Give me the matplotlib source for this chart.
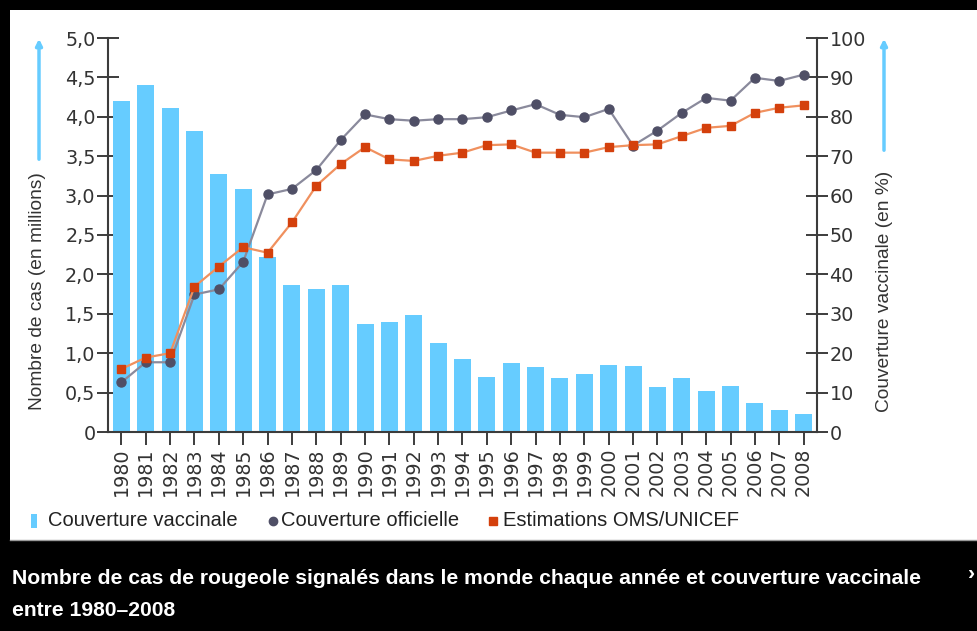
import numpy as np
import matplotlib
matplotlib.use("Agg")
import matplotlib.pyplot as plt
from matplotlib.patches import Rectangle, FancyArrowPatch
from matplotlib.lines import Line2D

years = list(range(1980, 2009))

# reported measles cases, millions
cases = [4.20, 4.40, 4.11, 3.82, 3.28, 3.09, 2.22, 1.86, 1.82, 1.87,
         1.37, 1.40, 1.48, 1.13, 0.93, 0.70, 0.87, 0.83, 0.69, 0.74,
         0.85, 0.84, 0.57, 0.68, 0.52, 0.59, 0.37, 0.28, 0.23]

# official coverage, %
official = [12.6, 17.7, 17.7, 34.9, 36.2, 43.2, 60.3, 61.7, 66.5, 74.1,
            80.6, 79.4, 79.0, 79.4, 79.4, 79.9, 81.6, 83.2, 80.5, 79.9,
            82.0, 72.7, 76.5, 81.0, 84.8, 84.1, 89.9, 89.1, 90.7]

# WHO/UNICEF estimates, %
who_unicef = [16.0, 18.9, 20.0, 36.9, 42.0, 46.9, 45.5, 53.2, 62.5, 68.0,
              72.3, 69.2, 68.8, 70.1, 70.9, 72.8, 73.0, 70.9, 70.9, 70.9,
              72.3, 72.8, 73.0, 75.1, 77.2, 77.7, 81.0, 82.3, 82.9]

W, H = 978, 631
BLUE = "#66CCFF"
GREY_LINE = "#8a8a9c"
GREY_DOT = "#4f4f66"
RED_LINE = "#f0905e"
RED_SQ = "#d4400c"
AXC = "#3c3c3c"
TXT = "#333333"


def fx(px):
    return px / W


def fy(py):
    return (H - py) / H


fig = plt.figure(figsize=(W / 100, H / 100), dpi=100, facecolor="black")
fig.add_artist(Rectangle((fx(10), fy(541)), fx(968), 531 / H, transform=fig.transFigure,
                         facecolor="white", edgecolor="none", zorder=-5))
fig.add_artist(Line2D([fx(10), 1], [fy(540), fy(540)], transform=fig.transFigure,
                      color="#999999", lw=1, zorder=-4))

ax = fig.add_axes([fx(108), fy(432), 709 / W, 394 / H])
ax.set_facecolor("none")
x = np.arange(len(years))
ax.bar(x, cases, width=0.7, color=BLUE, zorder=2)
ax.set_xlim(-0.55, len(years) - 0.45)
ax.set_ylim(0, 5)

yt = np.arange(0, 5.01, 0.5)
ax.set_yticks(yt)
ax.set_yticklabels(["0" if v == 0 else f"{v:.1f}".replace(".", ",") for v in yt])
ax.set_xticks(x)
ax.set_xticklabels([str(y) for y in years], rotation=90)
ax.tick_params(axis="y", direction="inout", length=16, width=1.4, color=AXC,
               labelsize=13.8, labelcolor=TXT, pad=1)
ax.tick_params(axis="x", direction="inout", length=18, width=1.4, color=AXC,
               labelsize=13.8, labelcolor=TXT, pad=2)
for s in ["top", "right"]:
    ax.spines[s].set_visible(False)
for s in ["left", "bottom"]:
    ax.spines[s].set_color(AXC)
    ax.spines[s].set_linewidth(1.5)

ax2 = ax.twinx()
ax2.plot(x, official, color=GREY_LINE, lw=1.6, marker="o", ms=6.5,
         mfc=GREY_DOT, mec=GREY_DOT, zorder=3)
ax2.plot(x, who_unicef, color=RED_LINE, lw=1.6, marker="s", ms=6,
         mfc=RED_SQ, mec=RED_SQ, zorder=4)
ax2.set_ylim(0, 100)
ax2.set_yticks(np.arange(0, 101, 10))
ax2.tick_params(axis="y", direction="inout", length=16, width=1.4, color=AXC,
                labelsize=13.8, labelcolor=TXT, pad=1)
for s in ["top", "left", "bottom"]:
    ax2.spines[s].set_visible(False)
ax2.spines["right"].set_color(AXC)
ax2.spines["right"].set_linewidth(1.5)

lab = dict(family="Liberation Sans", size=13.8, color=TXT, rotation=90,
           ha="center", va="center")
fig.text(fx(38), fy(291), "Nombre de cas (en millions)", **lab)
fig.text(fx(885), fy(291), "Couverture vaccinale (en %)", **lab)

for xa, y0, y1 in [(39, 162, 36), (884, 153, 36)]:
    fig.add_artist(FancyArrowPatch((fx(xa), fy(y0)), (fx(xa), fy(y1)),
                                   transform=fig.transFigure, arrowstyle="-|>",
                                   mutation_scale=9, color=BLUE, lw=2.5))

# legend row
fig.add_artist(Rectangle((fx(31), fy(528)), fx(6), 14 / H, transform=fig.transFigure,
                         facecolor=BLUE, edgecolor="none"))
fig.add_artist(Line2D([fx(273)], [fy(521)], transform=fig.transFigure, marker="o",
                      ms=6, color=GREY_DOT, ls="none"))
fig.add_artist(Line2D([fx(493)], [fy(521)], transform=fig.transFigure, marker="s",
                      ms=6, color=RED_SQ, ls="none"))
leg = dict(family="Liberation Sans", size=14.5, color="#222222", va="center", ha="left")
fig.text(fx(48), fy(521), "Couverture vaccinale", **leg)
fig.text(fx(281), fy(521), "Couverture officielle", **leg)
fig.text(fx(503), fy(521), "Estimations OMS/UNICEF", **leg)

cap = dict(family="Liberation Sans", size=15.2, color="white", weight="bold",
           va="center", ha="left")
fig.text(fx(12), fy(578), "Nombre de cas de rougeole signalés dans le monde chaque année et couverture vaccinale", **cap)
fig.text(fx(12), fy(610), "entre 1980–2008", **cap)
fig.text(fx(968), fy(574), "›", **cap)

fig.savefig("out.png", dpi=100, facecolor="black")
